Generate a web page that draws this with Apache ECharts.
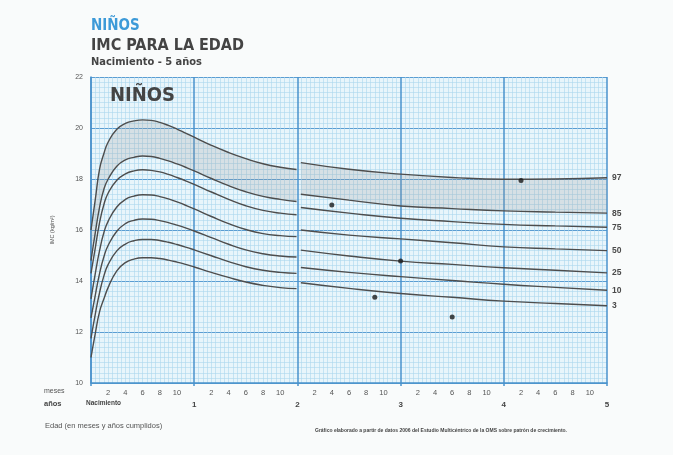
<!DOCTYPE html>
<html><head><meta charset="utf-8">
<script src="https://cdn.jsdelivr.net/npm/echarts@6/dist/echarts.min.js"></script>
<style>html,body{margin:0;padding:0;background:#f9fbfb;}#c{width:673px;height:455px;}</style>
</head><body><div id="c"></div>
<script>
// Age in months, segment 1 (birth to 2 years, length) and segment 2 (2 to 5 years, height)
const months1 = [0,0.5,1,1.5,2,3,4,5,6,7,8,9,10,11,12,14,16,18,20,22,23.9];
const months2 = [24.4,30,36,42,48,54,60];
const percentiles = ['97','85','75','50','25','10','3'];
// BMI percentile values, segment 1
const p97a = [16.0,17.2,18.4,19.0,19.45,19.95,20.18,20.28,20.32,20.3,20.22,20.1,19.96,19.8,19.64,19.32,19.04,18.8,18.6,18.46,18.37];
const p85a = [14.8,15.9,16.9,17.6,18.0,18.5,18.75,18.85,18.9,18.88,18.81,18.71,18.59,18.46,18.32,18.02,17.74,17.5,17.32,17.2,17.12];
const p75a = [14.3,15.3,16.3,17.0,17.45,17.95,18.2,18.32,18.36,18.34,18.28,18.18,18.06,17.93,17.79,17.49,17.2,16.95,16.77,16.66,16.6];
const p50a = [13.3,14.3,15.2,15.9,16.35,16.9,17.2,17.33,17.38,17.37,17.31,17.22,17.1,16.97,16.83,16.53,16.25,16.02,15.86,15.78,15.74];
const p25a = [12.55,13.45,14.3,14.95,15.4,15.95,16.25,16.38,16.43,16.42,16.37,16.29,16.19,16.08,15.96,15.7,15.44,15.22,15.07,14.98,14.94];
const p10a = [11.75,12.7,13.55,14.2,14.65,15.18,15.45,15.58,15.63,15.63,15.59,15.52,15.43,15.33,15.22,14.99,14.76,14.56,14.42,14.34,14.3];
const p3a  = [11.0,11.95,12.8,13.3,13.75,14.4,14.72,14.86,14.91,14.91,14.88,14.82,14.74,14.65,14.55,14.34,14.14,13.96,13.83,13.74,13.7];
// BMI percentile values, segment 2
const p97b = [18.64,18.38,18.19,18.06,17.99,18.0,18.05];
const p85b = [17.40,17.17,16.94,16.84,16.75,16.70,16.66];
const p75b = [16.88,16.66,16.46,16.33,16.22,16.16,16.11];
const p50b = [16.00,15.80,15.65,15.50,15.34,15.26,15.19];
const p25b = [15.21,14.98,14.78,14.65,14.52,14.42,14.32];
const p10b = [14.53,14.34,14.17,14.02,13.87,13.75,13.64];
const p3b  = [13.93,13.71,13.51,13.36,13.21,13.12,13.03];
// Measured child points
const childAges = [28,33,36,42,50];
const childBmi  = [16.98,13.36,14.78,12.59,17.94];
// Tick labels
const yearLabels = ['','1','2','3','4','5'];

const SMOOTH = 0.5;
const segA = [p97a,p85a,p75a,p50a,p25a,p10a,p3a];
const segB = [p97b,p85b,p75b,p50b,p25b,p10b,p3b];
const pair = (xs, ys) => xs.map((x,i)=>[x, ys[i]]);

// smooth path through pixel points (same scheme as ECharts' line smoothing)
function smoothSeg(pts, start){
  let d = start ? 'M' + pts[0][0] + ' ' + pts[0][1] : 'L' + pts[0][0] + ' ' + pts[0][1];
  const n = pts.length;
  const cpOut = [], cpIn = [];
  for (let i=0;i<n;i++){
    const p = pts[i];
    if (i===0 || i===n-1){ cpOut[i]=p; cpIn[i]=p; continue; }
    const pr = pts[i-1], nx = pts[i+1];
    const vx = nx[0]-pr[0], vy = nx[1]-pr[1];
    const l0 = Math.hypot(p[0]-pr[0], p[1]-pr[1]);
    const l1 = Math.hypot(nx[0]-p[0], nx[1]-p[1]);
    const r = l1/(l0+l1);
    cpIn[i] = [p[0]-vx*SMOOTH*(1-r), p[1]-vy*SMOOTH*(1-r)];
    cpOut[i] = [p[0]+vx*SMOOTH*r, p[1]+vy*SMOOTH*r];
  }
  for (let i=1;i<n;i++){
    d += 'C'+cpOut[i-1][0]+' '+cpOut[i-1][1]+' '+cpIn[i][0]+' '+cpIn[i][1]+' '+pts[i][0]+' '+pts[i][1];
  }
  return d;
}
function bandSeries(months, hi, lo){
  return {type:'custom', coordinateSystem:'cartesian2d', data:pair(months, hi), silent:true, z:1,
    renderItem:(params, api)=>{
      if (params.dataIndex !== 0) return null;
      const top = months.map((m,i)=>api.coord([m, hi[i]]));
      const bot = months.map((m,i)=>api.coord([m, lo[i]])).reverse();
      const d = smoothSeg(top, true) + smoothSeg(bot, false) + 'Z';
      return {type:'path', shape:{pathData:d}, style:{fill:'rgba(150,150,150,0.22)', stroke:null}};
    }};
}

const lineCol = '#4d4d4d';
const series = [bandSeries(months1, p97a, p85a), bandSeries(months2, p97b, p85b)];
segA.forEach((d,i)=>{
  series.push({type:'line', name:percentiles[i], data:pair(months1,d), smooth:SMOOTH, symbol:'none',
    lineStyle:{color:lineCol, width:1.4}, z:3});
});
segB.forEach((d,i)=>{
  series.push({type:'line', name:percentiles[i], data:pair(months2,d), smooth:SMOOTH, symbol:'none',
    lineStyle:{color:lineCol, width:1.4}, z:3,
    endLabel:{show:true, formatter:percentiles[i], distance:5, fontSize:8.5, fontWeight:'bold',
      color:'#4a4a4a', fontFamily:'Liberation Sans'}});
});
series.push({type:'scatter', data:pair(childAges, childBmi), symbolSize:5,
  itemStyle:{color:'#1a1a1a'}, z:5});

const chart = echarts.init(document.getElementById('c'), null, {renderer:'canvas'});
chart.setOption({
  animation:false,
  backgroundColor:'#f9fbfb',
  grid:{left:91, right:66, top:77, bottom:72, show:true, backgroundColor:'#e8f5fb', borderWidth:0},
  xAxis:[
    {type:'value', min:0, max:60, interval:12,
      axisLine:{show:true, lineStyle:{color:'#4a92cc', width:1.5}},
      axisTick:{show:true, length:3, lineStyle:{color:'#4a92cc', width:1.5}},
      axisLabel:{show:false},
      splitLine:{show:true, lineStyle:{color:'#4a92cc', width:1.5}},
      minorTick:{show:false, splitNumber:24},
      minorSplitLine:{show:true, lineStyle:{color:'#abd7ee', width:0.6}}},
    {type:'value', min:0, max:60, interval:2, position:'bottom',
      axisLine:{show:false}, axisTick:{show:false}, splitLine:{show:false},
      axisLabel:{fontSize:7.5, color:'#555', margin:6, fontFamily:'Liberation Sans',
        formatter:v=> (v%12===0 ? '' : String(v%12))}},
    {type:'value', min:0, max:60, interval:12, position:'bottom', offset:12,
      axisLine:{show:false}, axisTick:{show:false}, splitLine:{show:false},
      axisLabel:{fontSize:8, color:'#444', fontWeight:'bold', margin:6, fontFamily:'Liberation Sans',
        formatter:v=> yearLabels[v/12]}}
  ],
  yAxis:{type:'value', min:10, max:22, interval:2,
    name:'IMC (kg/m²)', nameLocation:'middle', nameGap:36, nameRotate:90,
    nameTextStyle:{fontSize:5.5, color:'#555', fontFamily:'Liberation Sans'},
    axisLine:{show:true, lineStyle:{color:'#4a92cc', width:1.5}},
    axisTick:{show:false},
    axisLabel:{fontSize:7, color:'#555', margin:8, fontFamily:'Liberation Sans'},
    splitLine:{show:true, lineStyle:{color:'#5a9dd2', width:1.2}},
    minorTick:{show:false, splitNumber:10},
    minorSplitLine:{show:true, lineStyle:{color:'#abd7ee', width:0.6}}},
  graphic:[
    {type:'text', left:91, top:19, style:{text:'NIÑOS', font:'bold 15px "DejaVu Sans Condensed", "Liberation Sans"', fill:'#3d9ad8'}},
    {type:'text', left:91, top:38, style:{text:'IMC PARA LA EDAD', font:'bold 16px "DejaVu Sans Condensed", "Liberation Sans"', fill:'#444'}},
    {type:'text', left:91, top:57, style:{text:'Nacimiento - 5 años', font:'bold 11px "DejaVu Sans Condensed", "Liberation Sans"', fill:'#444'}},
    {type:'text', left:110, top:86, z:10, style:{text:'NIÑOS', font:'bold 20px "DejaVu Sans Condensed", "Liberation Sans"', fill:'#444'}},
    {type:'text', left:44, top:388, style:{text:'meses', font:'7px "Liberation Sans"', fill:'#555'}},
    {type:'text', left:44, top:400, style:{text:'años', font:'bold 7.5px "Liberation Sans"', fill:'#444'}},
    {type:'text', left:86, top:400, style:{text:'Nacimiento', font:'bold 6.5px "Liberation Sans"', fill:'#444'}},
    {type:'text', left:45, top:422, style:{text:'Edad (en meses y años cumplidos)', font:'7.5px "Liberation Sans"', fill:'#555'}},
    {type:'text', left:315, top:428, style:{text:'Gráfico elaborado a partir de datos 2006 del Estudio Multicéntrico de la OMS sobre patrón de crecimiento.', font:'bold 5px "Liberation Sans"', fill:'#444'}}
  ],
  series:series
});
</script></body></html>
